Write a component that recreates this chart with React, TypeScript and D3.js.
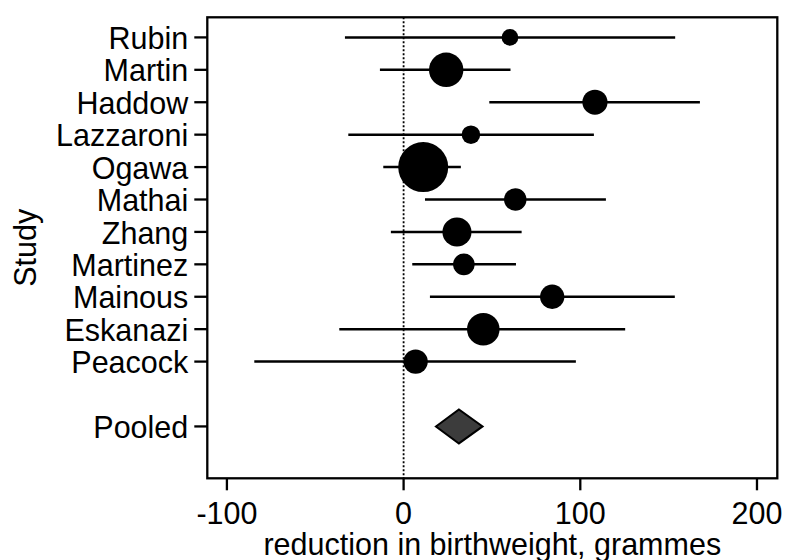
import React from "react";
import * as d3 from "d3";

// study-level estimates
const studies = [
  "Rubin",
  "Martin",
  "Haddow",
  "Lazzaroni",
  "Ogawa",
  "Mathai",
  "Zhang",
  "Martinez",
  "Mainous",
  "Eskanazi",
  "Peacock",
];
const estimates = [60.2, 24.1, 108.3, 38.1, 11.1, 63.2, 30.2, 34.1, 84.1, 45.1, 6.8];
const lower = [-33.2, -13.4, 48.5, -31.3, -11.5, 12.1, -7.2, 4.9, 14.9, -36.4, -84.5];
const upper = [153.7, 60.5, 167.7, 107.7, 32.4, 114.5, 66.8, 63.6, 153.5, 125.4, 97.5];
const weights = [3.1, 13.2, 7.0, 3.8, 27.8, 5.6, 9.4, 5.2, 6.6, 11.8, 6.6];

const pooledLabel = "Pooled";
const pooled = { est: 31.3, lo: 18.3, hi: 44.7 };

const xTicks = [-100, 0, 100, 200];
const xTitle = "reduction in birthweight, grammes";
const yTitle = "Study";

const width = 785,
  height = 560;
const left = 207.3,
  right = 777.3,
  top = 17.3,
  bottom = 478.3;

const font = "'Liberation Sans', Arial, Helvetica, sans-serif";
const fontSize = 30.5;

const App = () => {
  const x = d3.scaleLinear().domain([-111.1, 211.5]).range([left, right]);
  const y = d3.scaleLinear().domain([-0.62, 13.6]).range([top, bottom]);
  const r = d3
    .scaleSqrt()
    .domain([0, d3.max(weights) as number])
    .range([0, 25]);

  const rows = studies.map((name, i) => ({
    name,
    idx: i,
    est: estimates[i],
    lo: lower[i],
    hi: upper[i],
    w: weights[i],
  }));
  const pooledIdx = studies.length + 1;
  const labels = [
    ...rows.map((d) => ({ name: d.name, idx: d.idx })),
    { name: pooledLabel, idx: pooledIdx },
  ];

  const py = y(pooledIdx);
  const diamond = d3.line()([
    [x(pooled.lo), py],
    [x(pooled.est), py - 17],
    [x(pooled.hi), py],
    [x(pooled.est), py + 17],
  ]) + "Z";

  return (
    <svg
      width={width}
      height={height}
      style={{ position: "absolute", left: 0, top: 0, background: "#fff" }}
      fontFamily={font}
    >
      <rect x={0} y={0} width={width} height={height} fill="#fff" />

      {/* zero reference */}
      <line
        x1={x(0)}
        x2={x(0)}
        y1={top}
        y2={bottom}
        stroke="#000"
        strokeWidth={1.8}
        strokeDasharray="2,2"
      />

      {rows.map((d) => (
        <g key={d.name}>
          <line
            x1={x(d.lo)}
            x2={x(d.hi)}
            y1={y(d.idx)}
            y2={y(d.idx)}
            stroke="#000"
            strokeWidth={2.5}
          />
          <circle cx={x(d.est)} cy={y(d.idx)} r={r(d.w)} fill="#000" />
        </g>
      ))}

      <path d={diamond} fill="#3c3c3c" stroke="#000" strokeWidth={2} />

      {/* frame */}
      <rect
        x={left}
        y={top}
        width={right - left}
        height={bottom - top}
        fill="none"
        stroke="#000"
        strokeWidth={2.3}
      />

      {/* y axis */}
      {labels.map((d) => (
        <g key={d.name}>
          <line x1={left - 13} x2={left} y1={y(d.idx)} y2={y(d.idx)} stroke="#000" strokeWidth={2.3} />
          <text
            x={left - 19}
            y={y(d.idx)}
            dy="0.38em"
            textAnchor="end"
            fontSize={fontSize}
            fill="#000"
          >
            {d.name}
          </text>
        </g>
      ))}

      {/* x axis */}
      {xTicks.map((t) => (
        <g key={t}>
          <line x1={x(t)} x2={x(t)} y1={bottom} y2={bottom + 12} stroke="#000" strokeWidth={2.3} />
          <text x={x(t)} y={524} textAnchor="middle" fontSize={fontSize} fill="#000">
            {t}
          </text>
        </g>
      ))}

      <text
        x={(left + right) / 2}
        y={555}
        textAnchor="middle"
        fontSize={fontSize}
        fill="#000"
      >
        {xTitle}
      </text>
      <text
        transform={`translate(36, ${(top + bottom) / 2}) rotate(-90)`}
        textAnchor="middle"
        fontSize={fontSize}
        fill="#000"
      >
        {yTitle}
      </text>
    </svg>
  );
};

export default App;
